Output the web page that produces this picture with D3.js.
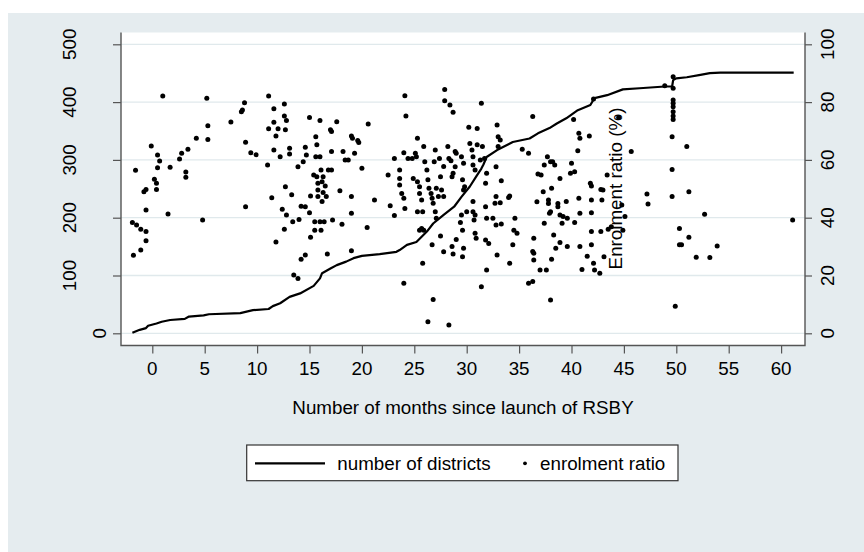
<!DOCTYPE html>
<html>
<head>
<meta charset="utf-8">
<script src="https://cdn.jsdelivr.net/npm/d3@7"></script>
<style>
  body { margin: 0; background: #fff; }
  text { font-family: "Liberation Sans", Arial, sans-serif; fill: #000; }
</style>
</head>
<body>
<div id="chart"></div>
<script>
// cumulative number of districts (left axis)
const districtMonths = [-1.9, -1.2, -0.6, -0.4, 0.4, 0.9, 1.7, 3.1, 3.5, 4.9, 5.4, 8.4, 8.9, 9.6, 11.1, 11.5, 12.2, 13.1, 14.1, 15.4, 16.0, 16.2, 17.0, 17.6, 18.5, 19.2, 20.0, 21.7, 23.3, 23.6, 24.3, 25.2, 25.7, 26.2, 26.8, 27.8, 28.8, 29.5, 30.3, 30.9, 31.4, 31.6, 31.9, 32.9, 34.4, 36.0, 36.8, 37.9, 38.6, 39.5, 40.6, 41.8, 42.2, 43.4, 44.9, 46.5, 48.9, 49.6, 49.7, 50.0, 51.0, 52.3, 53.2, 54.2, 61.2];
const districtCounts = [1, 6, 9, 13, 17, 20, 23, 25, 29, 31, 33, 35, 37, 40, 42, 47, 52, 63, 69, 82, 95, 104, 112, 118, 124, 130, 134, 137, 141, 144, 153, 158, 167, 176, 190, 205, 219, 236, 254, 271, 285, 292, 305, 317, 331, 337, 346, 355, 363, 372, 386, 395, 407, 412, 422, 424, 427, 427, 438, 441, 443, 447, 450, 451, 451];

// enrolment ratio per district, [month, percent] (right axis)
const ratioPoints = [
  [-1.8,27.0],[-1.9,38.3],[-1.6,56.4],[-1.5,37.5],[-1.1,36.0],[-1.1,28.8],[-0.8,49.0],[-0.6,49.8],[-0.6,42.7],[-0.6,35.2],
  [-0.6,32.0],[-0.1,64.8],[0.2,53.3],[0.4,51.9],[0.4,49.8],[0.5,61.7],[0.5,57.3],[0.7,59.6],[1.0,82.1],[1.5,41.3],
  [1.7,57.5],[2.6,60.3],[2.8,62.3],[3.2,55.8],[3.2,54.0],[3.4,63.7],[4.2,67.5],[4.8,39.2],[5.2,81.3],[5.3,67.1],
  [5.3,71.8],[7.5,73.1],[8.5,76.7],[8.6,77.3],[8.8,79.8],[8.9,43.8],[8.9,66.1],[9.4,62.5],[9.9,61.8],[11.1,82.1],
  [11.1,70.8],[11.0,58.2],[11.4,46.9],[11.6,77.7],[11.6,73.0],[11.6,63.4],[11.8,68.3],[11.8,31.6],[12.0,70.8],[12.2,61.1],
  [12.6,79.3],[12.6,75.2],[12.8,73.6],[12.7,70.4],[13.1,64.0],[13.1,62.0],[12.7,50.7],[13.3,47.9],[12.4,42.9],[12.8,40.9],
  [12.6,36.0],[13.4,38.6],[14.0,39.4],[13.5,20.2],[13.9,19.0],[14.2,25.6],[14.6,27.1],[13.9,57.6],[14.4,59.4],[14.6,64.4],
  [14.7,61.7],[15.0,74.7],[15.1,47.5],[15.0,41.7],[15.1,33.2],[14.2,44.0],[14.6,43.8],[15.4,54.8],[15.5,38.6],[15.5,35.7],
  [15.6,68.0],[15.7,65.2],[15.6,61.1],[15.7,54.2],[15.8,51.9],[15.8,49.6],[15.8,47.3],[16.0,73.6],[16.0,61.1],[16.1,56.5],
  [16.2,52.4],[16.2,45.6],[16.0,38.6],[16.1,35.7],[16.3,48.7],[16.3,54.2],[16.4,38.6],[16.5,51.0],[16.6,47.3],[16.8,56.5],
  [17.0,70.4],[17.1,69.8],[17.1,62.9],[17.1,56.5],[17.2,39.2],[16.7,27.4],[17.6,73.2],[17.9,49.3],[18.1,37.7],[18.2,62.9],
  [18.4,60.0],[18.7,60.0],[19.0,68.3],[19.1,67.5],[19.3,62.3],[19.6,66.7],[19.7,66.0],[19.0,47.3],[19.0,41.5],[19.0,28.6],
  [20.0,57.1],[20.5,36.6],[20.6,72.4],[21.2,46.1],[22.5,54.8],[22.7,44.1],[23.1,60.5],[23.1,40.8],[23.6,56.5],[23.6,53.6],
  [23.6,51.3],[23.8,48.4],[24.0,46.7],[24.1,43.2],[24.0,62.5],[24.1,82.2],[24.2,75.2],[24.0,17.3],[24.4,60.5],[24.8,60.5],
  [25.1,62.3],[25.2,61.1],[25.3,67.5],[24.9,53.6],[25.3,52.4],[25.5,50.7],[25.5,48.4],[25.7,46.1],[25.8,42.1],[25.3,42.1],
  [25.5,35.7],[25.7,36.3],[25.9,35.7],[25.8,24.2],[25.9,64.6],[26.0,59.4],[26.2,56.5],[26.3,53.1],[26.4,50.2],[26.6,48.4],
  [26.7,46.7],[26.8,45.0],[26.9,59.4],[27.0,63.4],[27.0,42.1],[27.1,39.8],[27.1,50.2],[27.3,47.3],[27.4,60.5],[27.5,54.2],
  [27.6,49.6],[27.8,57.7],[27.8,47.3],[27.9,84.4],[27.9,80.5],[28.4,79.0],[28.7,76.5],[28.2,64.6],[28.3,60.5],[28.5,59.7],
  [28.6,54.2],[28.7,55.4],[28.9,62.9],[28.9,57.6],[26.7,30.6],[27.5,33.7],[27.8,28.2],[26.8,11.7],[26.3,4.0],[28.3,2.9],
  [28.6,30.0],[28.7,27.4],[29.0,32.5],[29.0,62.3],[29.5,61.1],[29.7,58.8],[29.6,53.1],[29.7,49.6],[29.8,50.7],[30.0,42.1],
  [29.5,40.9],[29.4,38.3],[29.6,35.7],[29.7,29.4],[29.6,26.5],[30.2,71.3],[30.3,65.7],[30.5,63.4],[30.6,61.1],[30.6,58.2],
  [30.8,56.5],[30.6,45.6],[30.6,42.1],[30.8,40.9],[30.7,39.2],[30.8,34.6],[30.9,32.9],[31.0,70.9],[31.0,65.2],[31.3,60.0],
  [31.4,79.6],[31.5,64.6],[31.7,60.5],[31.8,51.9],[31.9,55.4],[31.8,43.8],[31.9,39.8],[31.8,32.3],[32.1,31.1],[31.9,21.9],
  [31.4,16.1],[32.5,39.8],[32.7,45.0],[32.8,47.3],[32.8,37.5],[32.9,27.1],[32.9,72.1],[33.0,68.0],[33.0,64.6],[32.8,57.6],
  [33.2,66.9],[33.2,45.2],[33.3,52.8],[34.0,47.0],[34.1,47.5],[33.3,37.8],[34.1,24.2],[34.5,35.7],[34.6,39.8],[34.4,30.6],
  [34.8,34.6],[35.3,63.7],[35.9,62.3],[36.3,75.0],[36.4,32.9],[36.3,28.3],[36.4,27.7],[36.4,25.4],[35.9,17.3],[36.3,17.9],
  [36.7,45.5],[36.8,55.1],[37.1,54.8],[37.0,21.9],[37.6,21.9],[37.3,49.0],[37.4,58.2],[37.4,38.1],[37.7,61.1],[37.8,46.1],
  [37.8,44.9],[37.9,41.5],[38.0,42.1],[38.0,59.4],[38.1,50.2],[38.2,59.4],[38.3,34.0],[38.4,58.2],[38.5,29.4],[38.1,25.6],
  [38.0,11.5],[38.7,44.9],[38.7,43.8],[38.9,53.6],[38.9,40.9],[38.9,31.4],[39.1,38.1],[39.2,40.4],[39.5,45.6],[39.6,39.8],
  [39.6,30.0],[39.9,55.4],[40.0,58.8],[40.2,74.0],[40.3,55.9],[40.3,38.3],[40.6,63.2],[40.7,69.2],[40.8,67.5],[40.7,46.7],
  [40.8,41.5],[40.8,30.0],[41.0,22.1],[41.5,26.7],[41.7,68.3],[41.8,51.9],[41.9,51.0],[41.9,46.1],[41.9,41.7],[41.9,35.2],
  [41.9,30.6],[42.1,24.2],[42.2,21.9],[42.8,49.8],[42.9,46.1],[42.8,35.2],[43.0,49.6],[43.1,26.5],[42.7,20.8],[43.4,54.8],
  [43.5,36.0],[43.8,36.9],[44.8,44.4],[44.9,35.7],[45.1,40.4],[45.7,62.9],[47.2,48.2],[47.3,44.7],[49.7,88.8],[49.7,84.8],
  [49.7,80.7],[49.7,79.6],[49.7,78.4],[49.7,76.7],[49.7,75.2],[49.7,74.0],[49.6,68.0],[49.6,56.7],[49.6,47.3],[49.9,9.4],
  [50.3,36.3],[50.3,30.6],[50.5,30.6],[51.0,64.6],[51.2,49.0],[51.2,33.2],[51.9,26.3],[48.9,85.7],[42.1,81.1],[44.5,74.7],
  [52.7,41.2],[53.2,26.2],[53.9,30.2],[61.1,39.2]
];

const xTicks = [0, 5, 10, 15, 20, 25, 30, 35, 40, 45, 50, 55, 60];
const leftTicks = [0, 100, 200, 300, 400, 500];
const rightTicks = [0, 20, 40, 60, 80, 100];
const xTitle = "Number of months since launch of RSBY";
const rightTitle = "Enrolment ratio (%)";
const legendLabels = ["number of districts", "enrolment ratio"];

const W = 864, H = 552;
const plot = { left: 121, right: 805, top: 32.5, bottom: 345.5 };
const bg = "#e5ecef", axisCol = "#555", gridCol = "#e0e9ec";
const fs = "18.8px";

const svg = d3.select("#chart").append("svg")
    .attr("width", W)
    .attr("height", H);

svg.append("rect").attr("x", 8).attr("y", 13).attr("width", W - 8).attr("height", H - 13).attr("fill", bg);
svg.append("rect")
    .attr("x", plot.left).attr("y", plot.top)
    .attr("width", plot.right - plot.left).attr("height", plot.bottom - plot.top)
    .attr("fill", "#fff");

const x = d3.scaleLinear().domain([0, 60]).range([152.3, 781.1]);
const yL = d3.scaleLinear().domain([0, 500]).range([333.3, 44.3]);
const yR = d3.scaleLinear().domain([0, 100]).range([333.3, 44.3]);

// grid
svg.append("g").selectAll("line")
    .data(leftTicks)
    .enter().append("line")
    .attr("x1", plot.left).attr("x2", plot.right)
    .attr("y1", d => yL(d)).attr("y2", d => yL(d))
    .attr("stroke", gridCol).attr("stroke-width", 1.3);

// axes (ticks only, labels drawn below)
const gL = svg.append("g").attr("transform", `translate(${plot.left},0)`)
    .call(d3.axisLeft(yL).tickValues(leftTicks).tickSize(8).tickSizeOuter(0).tickFormat(""));
const gR = svg.append("g").attr("transform", `translate(${plot.right},0)`)
    .call(d3.axisRight(yR).tickValues(rightTicks).tickSize(7).tickSizeOuter(0).tickFormat(""));
const gB = svg.append("g").attr("transform", `translate(0,${plot.bottom})`)
    .call(d3.axisBottom(x).tickValues(xTicks).tickSize(8).tickSizeOuter(0).tickFormat(""));
[gL, gR, gB].forEach(g => {
    g.select(".domain").remove();
    g.selectAll("line").attr("stroke", axisCol).attr("stroke-width", 1.2);
});

// frame lines
svg.append("path")
    .attr("d", `M${plot.left},${plot.top}V${plot.bottom}H${plot.right}V${plot.top}`)
    .attr("fill", "none").attr("stroke", axisCol).attr("stroke-width", 1.4);

svg.append("g").selectAll("text")
    .data(leftTicks)
    .enter().append("text")
    .attr("transform", d => `translate(${d === 0 ? 105.5 : 76},${yL(d)}) rotate(-90)`)
    .attr("text-anchor", "middle")
    .style("font-size", fs)
    .text(d => d);

svg.append("g").selectAll("text")
    .data(rightTicks)
    .enter().append("text")
    .attr("transform", d => `translate(834,${yR(d)}) rotate(-90)`)
    .attr("text-anchor", "middle")
    .style("font-size", fs)
    .text(d => d);

svg.append("g").selectAll("text")
    .data(xTicks)
    .enter().append("text")
    .attr("x", d => x(d)).attr("y", 375)
    .attr("text-anchor", "middle")
    .style("font-size", fs)
    .text(d => d);

svg.append("text")
    .attr("x", (plot.left + plot.right) / 2).attr("y", 413.5)
    .attr("text-anchor", "middle")
    .style("font-size", fs)
    .text(xTitle);

// district line
const lineData = districtMonths.map((m, i) => [m, districtCounts[i]]);
svg.append("path")
    .datum(lineData)
    .attr("fill", "none")
    .attr("stroke", "#000")
    .attr("stroke-width", 2.2)
    .attr("stroke-linejoin", "round")
    .attr("d", d3.line().x(d => x(d[0])).y(d => yL(d[1])));

// enrolment ratio dots
svg.append("g").selectAll("circle")
    .data(ratioPoints)
    .enter().append("circle")
    .attr("cx", d => x(d[0]))
    .attr("cy", d => yR(d[1]))
    .attr("r", 2.5)
    .attr("fill", "#000");

// stray right-axis title
svg.append("text")
    .attr("transform", "translate(622,188.5) rotate(-90)")
    .attr("text-anchor", "middle")
    .style("font-size", fs)
    .text(rightTitle);

// legend
const lg = svg.append("g");
lg.append("rect")
    .attr("x", 246.7).attr("y", 445).attr("width", 431.3).attr("height", 35.7)
    .attr("fill", "#fff").attr("stroke", "#333").attr("stroke-width", 1.2);
lg.append("line")
    .attr("x1", 255).attr("x2", 325).attr("y1", 463.3).attr("y2", 463.3)
    .attr("stroke", "#000").attr("stroke-width", 2.2);
lg.append("text").attr("x", 337.3).attr("y", 469.5).style("font-size", fs).text(legendLabels[0]);
lg.append("circle").attr("cx", 525).attr("cy", 463.3).attr("r", 1.9).attr("fill", "#000");
lg.append("text").attr("x", 540).attr("y", 469.5).style("font-size", fs).text(legendLabels[1]);
</script>
</body>
</html>
